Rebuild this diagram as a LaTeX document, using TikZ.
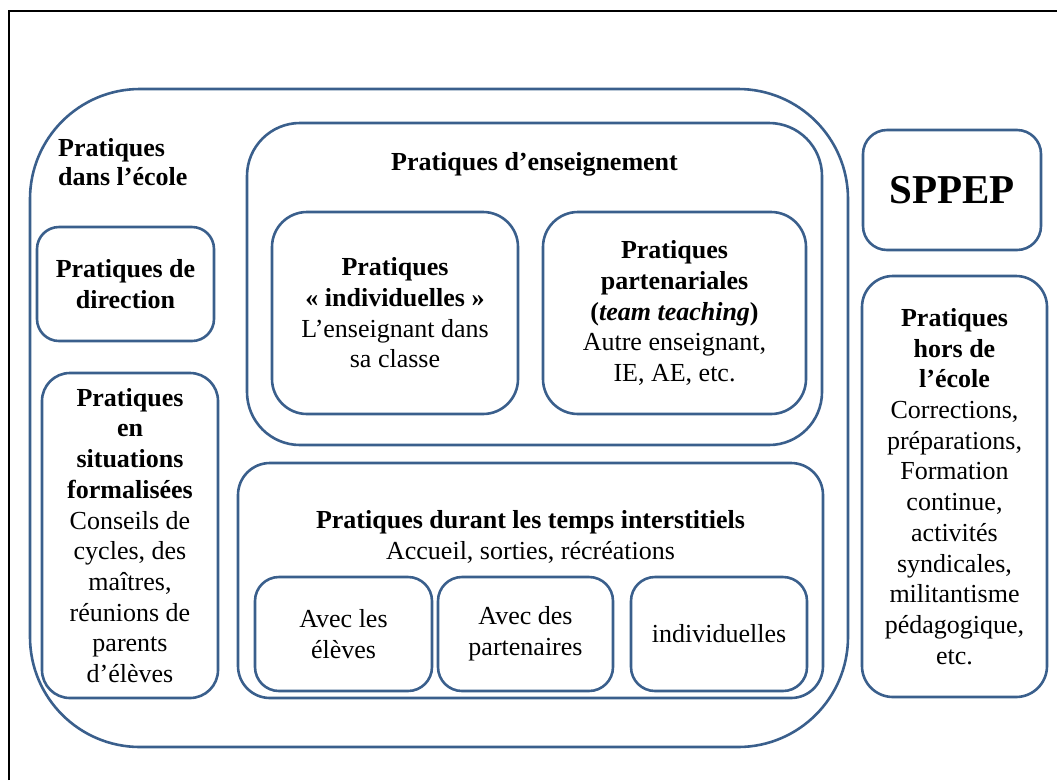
\documentclass[tikz,border=0pt]{standalone}
\usepackage{fontspec}
\setmainfont{Liberation Serif}
\definecolor{boxblue}{RGB}{58,95,140}
\begin{document}
\begin{tikzpicture}[x=1pt,y=-1pt,
  box/.style={draw=boxblue, line width=2.6pt, inner sep=0pt, align=center,
    font=\fontsize{26}{30.7}\selectfont},
  lbl/.style={inner sep=0pt, font=\fontsize{26}{30.7}\selectfont},
  frame/.style={draw=black, line width=2.8pt}]
\useasboundingbox (0,0) rectangle (1057,780);
% black frame (partly cut by the page)
\coordinate (fbl) at (9,780);
\coordinate (ftl) at (9,11);
\coordinate (ftr) at (1057,11);
\draw[frame] (fbl) -- (ftl) -- (ftr);
% outer school box
\node[box, minimum width=818pt, minimum height=658pt, rounded corners=110pt] (ecole) at (439,418) {};
\node[lbl, anchor=west, align=left, font=\fontsize{26}{29}\selectfont\bfseries] (ecoleT) at (58,162) {Pratiques\\dans l’école};
% teaching
\node[box, minimum width=575pt, minimum height=322pt, rounded corners=53pt] (ens) at (534.5,284) {};
\node[lbl, anchor=base, font=\fontsize{26}{30.7}\selectfont\bfseries] (ensT) at (534.5,170) {Pratiques d’enseignement};
\node[box, minimum width=246pt, minimum height=202pt, rounded corners=35pt] (indiv) at (395,313)
  {\textbf{Pratiques}\\\textbf{«~individuelles~»}\\L’enseignant dans\\sa classe};
\node[box, minimum width=263pt, minimum height=202pt, rounded corners=35pt] (part) at (674.5,313)
  {\textbf{Pratiques}\\\textbf{partenariales}\\\textbf{(\textit{team teaching})}\\Autre enseignant,\\IE, AE, etc.};
% interstitial
\node[box, minimum width=585pt, minimum height=235pt, rounded corners=32pt] (inter) at (530.5,580.5) {};
\node[lbl, align=center] (interT) at (530.5,537)
  {\textbf{Pratiques durant les temps interstitiels}\\Accueil, sorties, récréations};
\node[box, minimum width=177pt, minimum height=114pt, rounded corners=24pt] (eleves) at (343.5,634) {Avec les\\élèves};
\node[box, minimum width=175pt, minimum height=114pt, rounded corners=24pt] (parten) at (525.5,634) {Avec des\\partenaires};
\node[box, minimum width=176pt, minimum height=114pt, rounded corners=24pt] (indiv2) at (719,634) {individuelles};
% left column
\node[box, minimum width=177pt, minimum height=114pt, rounded corners=22pt] (dir) at (125.5,284)
  {\textbf{Pratiques de}\\\textbf{direction}};
\node[box, minimum width=176pt, minimum height=325pt, rounded corners=28pt] (form) at (130,535.5)
  {\textbf{Pratiques}\\\textbf{en}\\\textbf{situations}\\\textbf{formalisées}\\Conseils de\\cycles, des\\maîtres,\\réunions de\\parents\\d’élèves};
% right column
\node[box, minimum width=178pt, minimum height=120pt, rounded corners=24pt, font=\fontsize{41}{45}\selectfont\bfseries] (sppep) at (952,190) {SPPEP};
\node[box, minimum width=185pt, minimum height=421pt, rounded corners=31pt] (hors) at (954.5,486.5)
  {\textbf{Pratiques}\\\textbf{hors de}\\\textbf{l’école}\\Corrections,\\préparations,\\Formation\\continue,\\activités\\syndicales,\\militantisme\\pédagogique,\\etc.};
\end{tikzpicture}
\end{document}
